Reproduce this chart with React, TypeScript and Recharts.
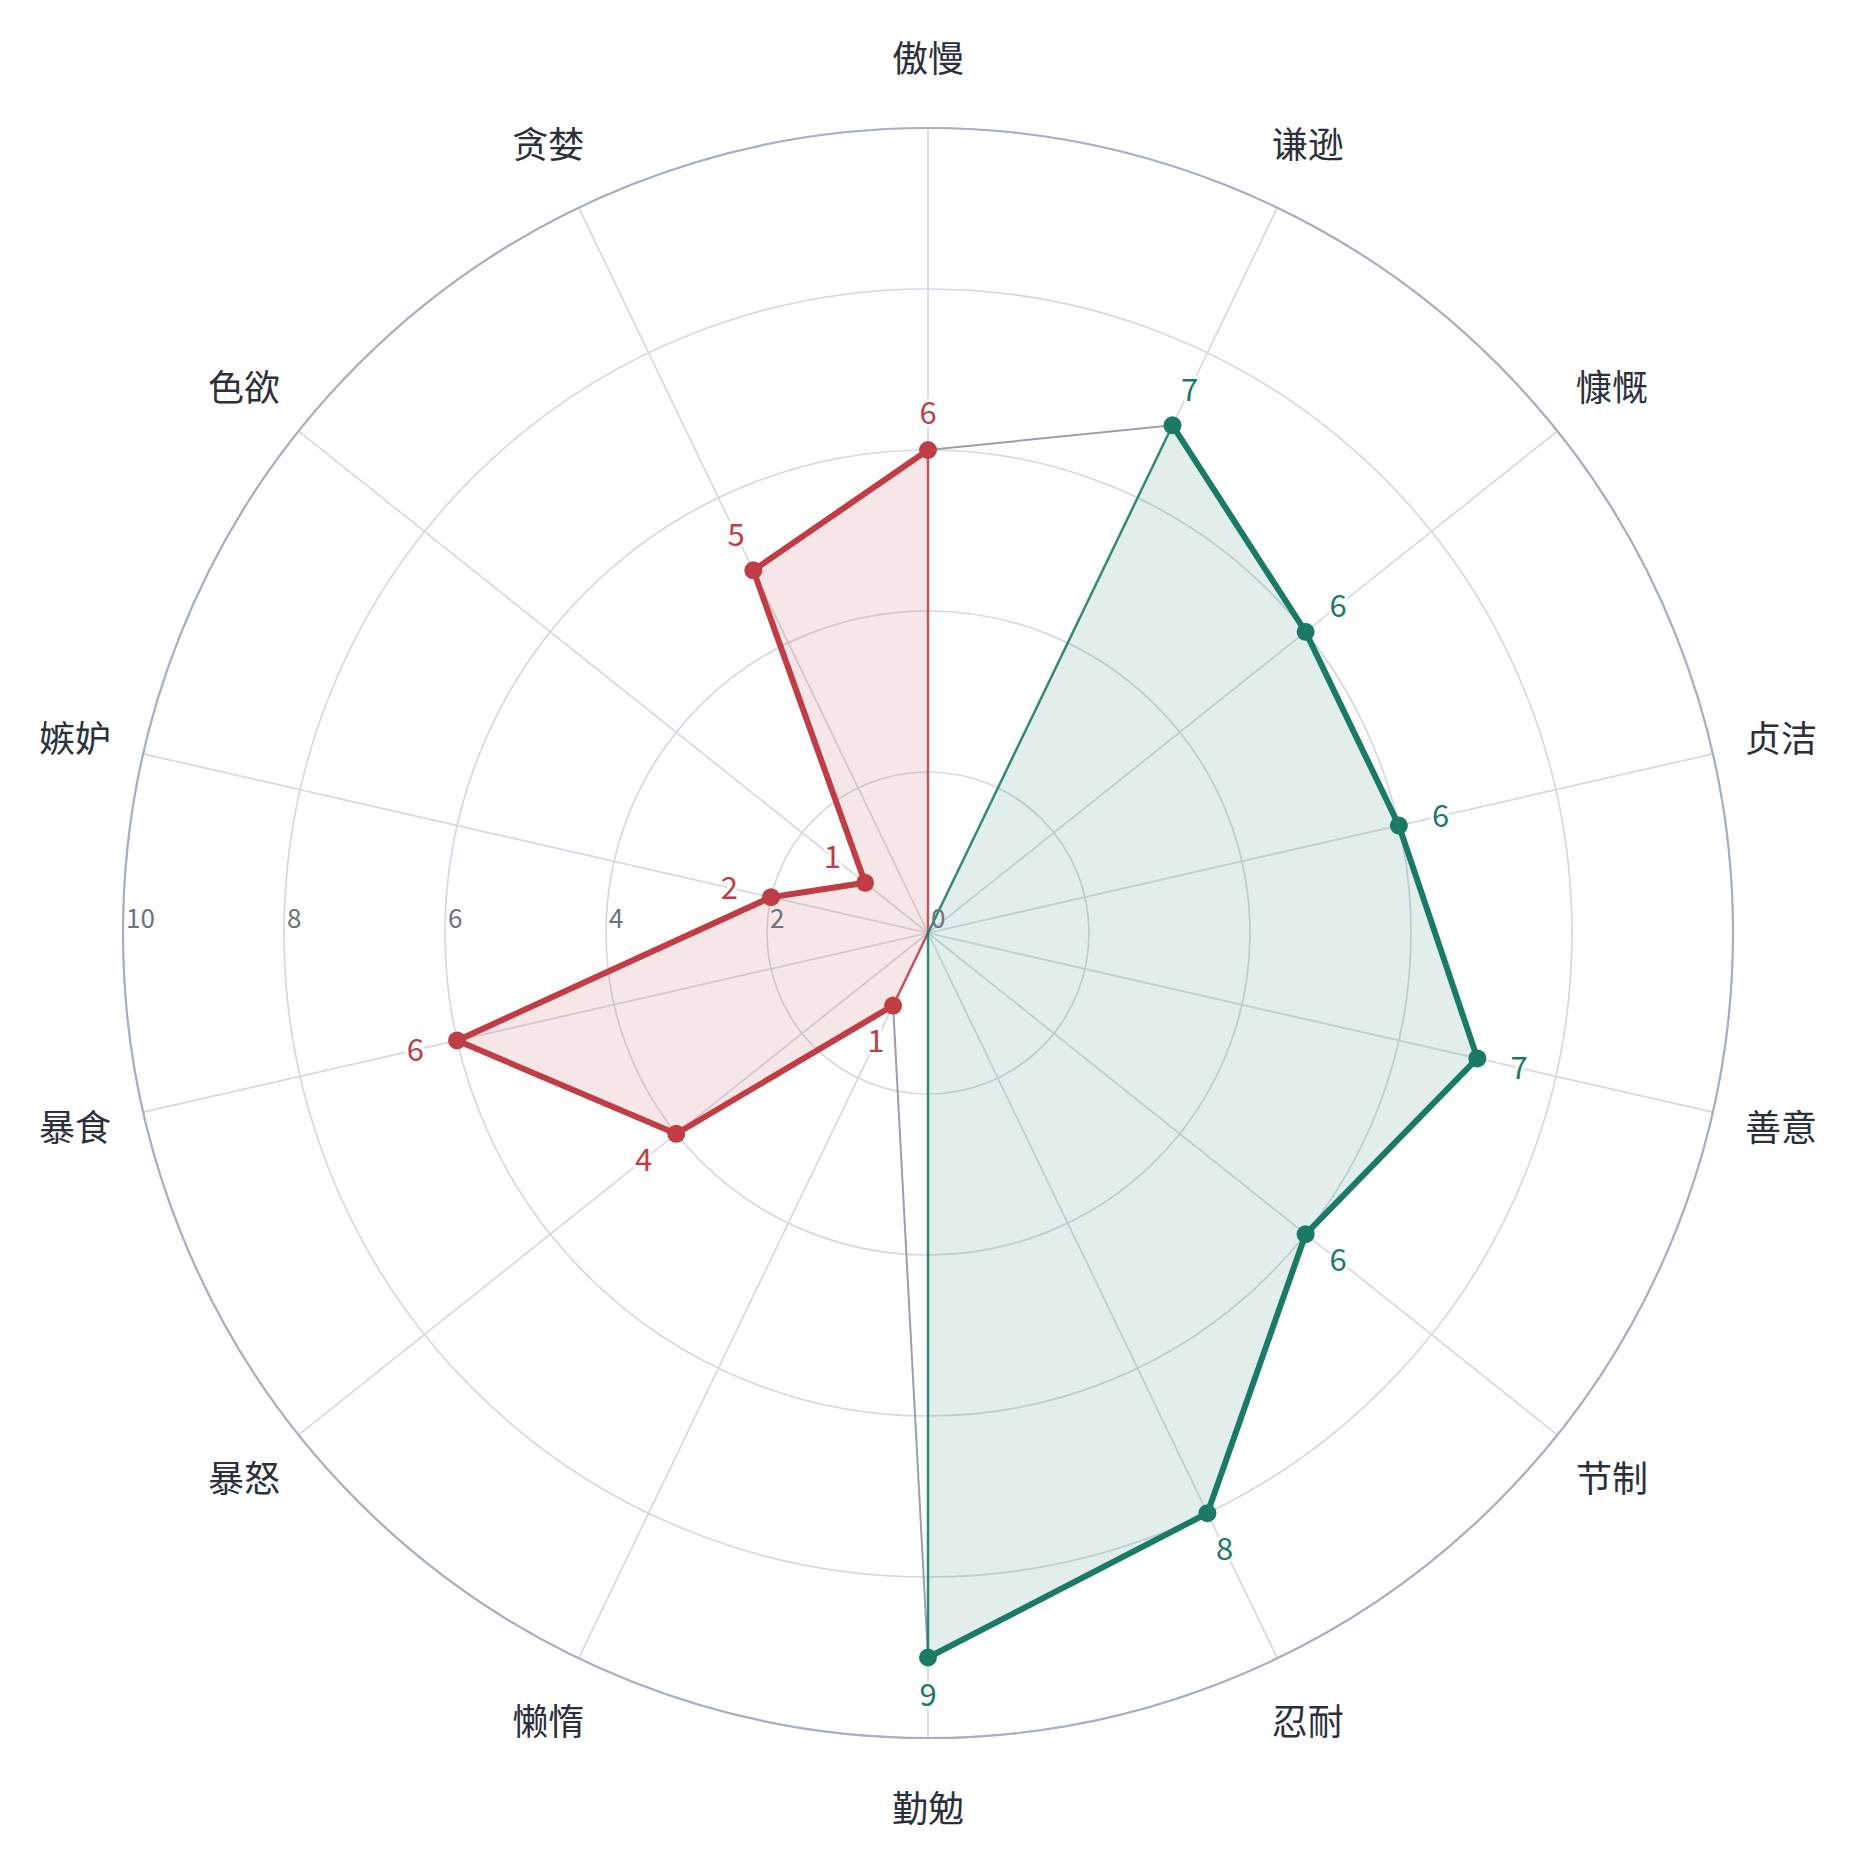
import { PolarAngleAxis, PolarGrid, PolarRadiusAxis, Radar, RadarChart } from "recharts";

const categories = ["傲慢", "谦逊", "慷慨", "贞洁", "善意", "节制", "忍耐", "勤勉", "懒惰", "暴怒", "暴食", "嫉妒", "色欲", "贪婪"];
// null = the category belongs to the other group
const sinScores = [6, null, null, null, null, null, null, null, 1, 4, 6, 2, 1, 5];
const virtueScores = [null, 7, 6, 6, 7, 6, 8, 9, null, null, null, null, null, null];
const radiusDomain = [0, 10];

const RED = "#c03d45";
const GREEN = "#1b7a66";
const W = 1858;
const H = 1868;
const CX = 928;
const CY = 933;
const R = 805;
const FONT = '"Noto Sans CJK SC", "Noto Sans", sans-serif';

const data = categories.map((name, i) => ({
  name,
  sin: sinScores[i],
  virtue: virtueScores[i],
  sinArea: sinScores[i] ?? 0,
  virtueArea: virtueScores[i] ?? 0,
  all: sinScores[i] ?? virtueScores[i],
}));

// thick open line through the group's points + dots + value labels
function chainShape(color: string) {
  return (props: any) => {
    const pts = (props.points || []) as any[];
    const n = pts.length;
    const ok = (p: any) => p && p.value != null && Number.isFinite(p.x) && Number.isFinite(p.y);
    const start = pts.findIndex((p, i) => ok(p) && !ok(pts[(i - 1 + n) % n]));
    const chain: any[] = [];
    for (let k = 0; k < n && start >= 0; k++) {
      const p = pts[(start + k) % n];
      if (!ok(p)) break;
      chain.push(p);
    }
    const d = chain.map((p, i) => `${i ? "L" : "M"}${p.x},${p.y}`).join("");
    return (
      <g>
        <path d={d} fill="none" stroke={color} strokeWidth={6} strokeLinejoin="round" strokeLinecap="round" />
        {chain.map((p, i) => (
          <circle key={`c${i}`} cx={p.x} cy={p.y} r={9} fill={color} />
        ))}
        {chain.map((p, i) => {
          const a = (-p.angle * Math.PI) / 180;
          const off = 37 + 6 * Math.abs(Math.cos(a));
          return (
            <text
              key={`t${i}`}
              x={p.x + off * Math.cos(a)}
              y={p.y + off * Math.sin(a)}
              dy="0.36em"
              textAnchor="middle"
              fontSize={31}
              fontFamily={FONT}
              fill={color}
              stroke="#fff"
              strokeWidth={6}
              strokeLinejoin="round"
              paintOrder="stroke"
            >
              {p.value}
            </text>
          );
        })}
      </g>
    );
  };
}

const AngleTick = (props: any) => {
  const a = (-props.payload.coordinate * Math.PI) / 180;
  const lr = R + 70;
  return (
    <text
      x={CX + lr * Math.cos(a)}
      y={CY + lr * Math.sin(a)}
      dy="0.38em"
      textAnchor="middle"
      fontSize={36}
      fontFamily={FONT}
      fill="#2b303b"
    >
      {props.payload.value}
    </text>
  );
};

const RadiusTick = (props: any) => (
  <text x={props.x + 3} y={props.y - 5} fontSize={26} fontFamily={FONT} fill="#6b7280">
    {props.payload.value}
  </text>
);

export default function App() {
  return (
    <div style={{ position: "absolute", left: 0, top: 0, width: W, height: H, background: "#fff" }}>
      <RadarChart width={W} height={H} data={data} cx={CX} cy={CY} outerRadius={R} margin={{ top: 0, right: 0, bottom: 0, left: 0 }}>
        <PolarGrid gridType="circle" stroke="#d3d9e3" strokeWidth={1.7} />
        <PolarGrid gridType="circle" radialLines={false} polarRadius={[R]} stroke="#a7b0bc" strokeWidth={2.2} />
        <PolarAngleAxis dataKey="name" axisLine={false} tickLine={false} tick={AngleTick} />
        <PolarRadiusAxis angle={180} domain={radiusDomain} tickCount={6} axisLine={false} tickLine={false} tick={RadiusTick} />
        <Radar dataKey="all" stroke="#9aa0aa" strokeWidth={2} fill="none" isAnimationActive={false} />
        <Radar dataKey="sinArea" stroke={RED} strokeOpacity={0.85} strokeWidth={2.5} fill={RED} fillOpacity={0.13} isAnimationActive={false} />
        <Radar dataKey="virtueArea" stroke={GREEN} strokeOpacity={0.85} strokeWidth={2.5} fill={GREEN} fillOpacity={0.13} isAnimationActive={false} />
        <Radar dataKey="sin" fill="none" shape={chainShape(RED)} isAnimationActive={false} />
        <Radar dataKey="virtue" fill="none" shape={chainShape(GREEN)} isAnimationActive={false} />
      </RadarChart>
    </div>
  );
}
